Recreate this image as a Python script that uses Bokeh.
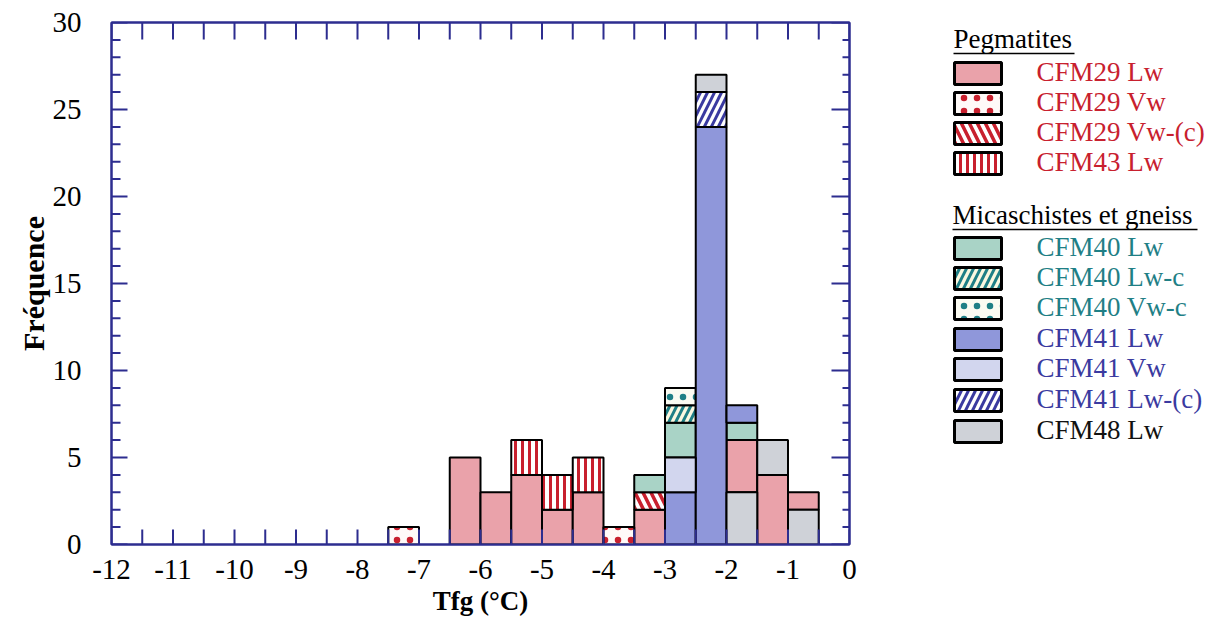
import math
from bokeh.plotting import figure
from bokeh.models import LinearAxis, FixedTicker, Range1d, CustomJSTickFormatter, ColumnDataSource
from bokeh.layouts import row
from bokeh.embed import file_html
from bokeh.resources import INLINE
from bokeh.core.properties import value

# ---------------- data ----------------
bin_left = [-7.5, -7.0, -6.5, -6.0, -5.5, -5.0, -4.5, -4.0, -3.5, -3.0, -2.5, -2.0, -1.5, -1.0]
bin_width = 0.5

cfm29_lw  = [0, 0, 5, 3, 4, 2, 3, 0, 2, 0, 0, 3, 4, 1]
cfm29_vw  = [1, 0, 0, 0, 0, 0, 0, 1, 0, 0, 0, 0, 0, 0]
cfm29_vwc = [0, 0, 0, 0, 0, 0, 0, 0, 1, 0, 0, 0, 0, 0]
cfm43_lw  = [0, 0, 0, 0, 2, 2, 2, 0, 0, 0, 0, 0, 0, 0]
cfm40_lw  = [0, 0, 0, 0, 0, 0, 0, 0, 1, 2, 0, 1, 0, 0]
cfm40_lwc = [0, 0, 0, 0, 0, 0, 0, 0, 0, 1, 0, 0, 0, 0]
cfm40_vwc = [0, 0, 0, 0, 0, 0, 0, 0, 0, 1, 0, 0, 0, 0]
cfm41_lw  = [0, 0, 0, 0, 0, 0, 0, 0, 0, 3, 24, 1, 0, 0]
cfm41_vw  = [0, 0, 0, 0, 0, 0, 0, 0, 0, 2, 0, 0, 0, 0]
cfm41_lwc = [0, 0, 0, 0, 0, 0, 0, 0, 0, 0, 2, 0, 0, 0]
cfm48_lw  = [0, 0, 0, 0, 0, 0, 0, 0, 0, 0, 1, 3, 2, 2]

series_names = ["CFM29 Lw", "CFM29 Vw", "CFM29 Vw-(c)", "CFM43 Lw",
                "CFM40 Lw", "CFM40 Lw-c", "CFM40 Vw-c",
                "CFM41 Lw", "CFM41 Vw", "CFM41 Lw-(c)", "CFM48 Lw"]
series_counts = dict(zip(series_names, [cfm29_lw, cfm29_vw, cfm29_vwc, cfm43_lw,
                                        cfm40_lw, cfm40_lwc, cfm40_vwc,
                                        cfm41_lw, cfm41_vw, cfm41_lwc, cfm48_lw]))

# stacking order (bottom -> top)
stack_default = ["CFM29 Lw", "CFM29 Vw", "CFM29 Vw-(c)", "CFM43 Lw", "CFM41 Lw", "CFM41 Vw",
                 "CFM40 Lw", "CFM40 Lw-c", "CFM40 Vw-c", "CFM41 Lw-(c)", "CFM48 Lw"]
stack_grey_first = ["CFM48 Lw", "CFM29 Lw", "CFM40 Lw", "CFM41 Lw"]
grey_first_bins = [-2.0, -1.0]

group_pegmatites = ["CFM29 Lw", "CFM29 Vw", "CFM29 Vw-(c)", "CFM43 Lw"]
group_micaschistes = ["CFM40 Lw", "CFM40 Lw-c", "CFM40 Vw-c", "CFM41 Lw", "CFM41 Vw", "CFM41 Lw-(c)", "CFM48 Lw"]

x_tick_labels = list(range(-12, 1))
x_tick_marks = [-12 + 0.5 * k for k in range(25)]
y_tick_labels = list(range(0, 31, 5))
y_tick_minor = list(range(0, 31))

# ---------------- styles ----------------
RED = "#c8202e"
TEAL = "#1f7f86"
BLUE = "#3a3aa0"
styles = {
    "CFM29 Lw":     dict(fill_color="#eaa2aa"),
    "CFM29 Vw":     dict(fill_color="#fffaf8", hatch_pattern=".", hatch_color=RED, hatch_scale=13, hatch_weight=2),
    "CFM29 Vw-(c)": dict(fill_color="white", hatch_pattern="\\", hatch_color=RED, hatch_scale=16, hatch_weight=3.5),
    "CFM43 Lw":     dict(fill_color="white", hatch_pattern="|", hatch_color=RED, hatch_scale=7, hatch_weight=3),
    "CFM40 Lw":     dict(fill_color="#a9d3c6"),
    "CFM40 Lw-c":   dict(fill_color="#fbf8e0", hatch_pattern="/", hatch_color=TEAL, hatch_scale=14, hatch_weight=3),
    "CFM40 Vw-c":   dict(fill_color="#fbfbf2", hatch_pattern=".", hatch_color=TEAL, hatch_scale=13, hatch_weight=2),
    "CFM41 Lw":     dict(fill_color="#8f97da"),
    "CFM41 Vw":     dict(fill_color="#d2d6ee"),
    "CFM41 Lw-(c)": dict(fill_color="white", hatch_pattern="/", hatch_color=BLUE, hatch_scale=14, hatch_weight=3),
    "CFM48 Lw":     dict(fill_color="#cfd2d8"),
}
text_colors = {n: RED for n in group_pegmatites}
text_colors.update({"CFM40 Lw": TEAL, "CFM40 Lw-c": TEAL, "CFM40 Vw-c": TEAL,
                    "CFM41 Lw": BLUE, "CFM41 Vw": BLUE, "CFM41 Lw-(c)": BLUE, "CFM48 Lw": "#111111"})

AXIS = "#2d2d8f"
FONT = "Liberation Serif"

# ---------------- compute stacked segments ----------------
segments = {n: dict(left=[], right=[], bottom=[], top=[]) for n in series_names}
for i, x0 in enumerate(bin_left):
    order = stack_grey_first if x0 in grey_first_bins else stack_default
    base = 0
    for n in order:
        c = series_counts[n][i]
        if c > 0:
            seg = segments[n]
            seg["left"].append(x0)
            seg["right"].append(x0 + bin_width)
            seg["bottom"].append(base)
            seg["top"].append(base + c)
            base += c

# ---------------- main figure ----------------
p = figure(width=879, height=619, x_range=Range1d(-12, 0), y_range=Range1d(0, 30),
           output_backend="svg", toolbar_location=None,
           min_border_left=111, min_border_right=30, min_border_top=22, min_border_bottom=75)
p.xgrid.visible = False
p.ygrid.visible = False
p.outline_line_color = AXIS
p.outline_line_width = 2

for n in series_names:
    src = ColumnDataSource(segments[n])
    p.quad(left="left", right="right", bottom="bottom", top="top", source=src,
           line_color="black", line_width=2, **styles[n])

# inward tick marks (drawn as screen-length rays from the frame edges)
xmin, xmax = -12, 0
ymin, ymax = 0, 30
y_major_set = set(y_tick_labels)
y_minor_only = [v for v in y_tick_minor if v not in y_major_set]
tick_kw = dict(line_color=AXIS, line_width=2, length_units="screen")
p.ray(x=x_tick_marks, y=[ymin] * len(x_tick_marks), length=15, angle=math.pi / 2, **tick_kw)
p.ray(x=x_tick_marks, y=[ymax] * len(x_tick_marks), length=17, angle=-math.pi / 2, **tick_kw)
p.ray(x=[xmin] * len(y_tick_labels), y=y_tick_labels, length=16, angle=0, **tick_kw)
p.ray(x=[xmin] * len(y_minor_only), y=y_minor_only, length=9, angle=0, **tick_kw)
p.ray(x=[xmax] * len(y_tick_labels), y=y_tick_labels, length=18, angle=math.pi, **tick_kw)
p.ray(x=[xmax] * len(y_minor_only), y=y_minor_only, length=7, angle=math.pi, **tick_kw)

xt = FixedTicker(ticks=x_tick_labels, minor_ticks=[])
yt = FixedTicker(ticks=y_tick_labels, minor_ticks=[])
plain = CustomJSTickFormatter(code="return tick.toString()")

def style_axis(ax, labels=True):
    ax.axis_line_color = AXIS
    ax.axis_line_width = 2
    ax.major_tick_line_color = None
    ax.minor_tick_line_color = None
    ax.major_tick_in = 0
    ax.major_tick_out = 0
    ax.minor_tick_in = 0
    ax.minor_tick_out = 0
    ax.major_label_text_font = FONT
    ax.major_label_text_color = "black"
    ax.major_label_text_font_size = "29px"
    if labels:
        ax.formatter = plain
    else:
        ax.formatter = CustomJSTickFormatter(code="return ''")
        ax.major_label_text_font_size = "1px"
        ax.major_label_standoff = 0

xa = p.xaxis[0]
xa.ticker = xt
style_axis(xa)
xa.major_label_standoff = 15
xa.axis_label = "Tfg (°C)"
xa.axis_label_text_font = FONT
xa.axis_label_text_font_style = "bold"
xa.axis_label_text_font_size = "27px"
xa.axis_label_text_color = "black"
xa.axis_label_standoff = 4

ya = p.yaxis[0]
ya.ticker = yt
style_axis(ya)
ya.major_label_standoff = 30
ya.axis_label = "Fréquence"
ya.axis_label_text_font = FONT
ya.axis_label_text_font_style = "bold"
ya.axis_label_text_font_size = "30px"
ya.axis_label_text_color = "black"
ya.axis_label_standoff = 0

top_ax = LinearAxis(ticker=xt)
style_axis(top_ax, labels=False)
p.add_layout(top_ax, "above")

right_ax = LinearAxis(ticker=yt)
style_axis(right_ax, labels=False)
p.add_layout(right_ax, "right")

# ---------------- legend figure (frame aligned to main frame; coords = page pixels) ----------------
lg = figure(width=331, height=619, x_range=Range1d(880, 1211), y_range=Range1d(545, 23),
            output_backend="svg", toolbar_location=None,
            x_axis_type=None, y_axis_type=None, min_border=0)
lg.xgrid.visible = False
lg.ygrid.visible = False
lg.outline_line_color = None

sw_x0, sw_x1, sw_h = 955, 1002, 22
txt_x = 1037
peg_y = [74, 104, 134, 164]
mic_y = [249, 279, 309, 340, 370, 401, 432]

for names, ys in ((group_pegmatites, peg_y), (group_micaschistes, mic_y)):
    for n, yc in zip(names, ys):
        lg.quad(left=[sw_x0], right=[sw_x1], bottom=[yc + sw_h / 2], top=[yc - sw_h / 2],
                line_color="black", line_width=3, **styles[n])
    lg.text(x=[txt_x] * len(names), y=[v - 2 for v in ys], text=names, text_baseline="middle",
            text_font=value(FONT), text_font_size=value("27px"),
            text_color=[text_colors[n] for n in names])

titles = ["Pegmatites", "Micaschistes et gneiss"]
title_y = [39, 215]
lg.text(x=[954, 953], y=title_y, text=titles, text_baseline="middle",
        text_font=value(FONT), text_font_size=value("27px"), text_color="black")
lg.segment(x0=[954, 953], y0=[54, 230], x1=[1075, 1198], y1=[54, 230], line_color="black", line_width=1.5)

layout = row(p, lg)
open("out.html", "w").write(file_html(layout, INLINE))
